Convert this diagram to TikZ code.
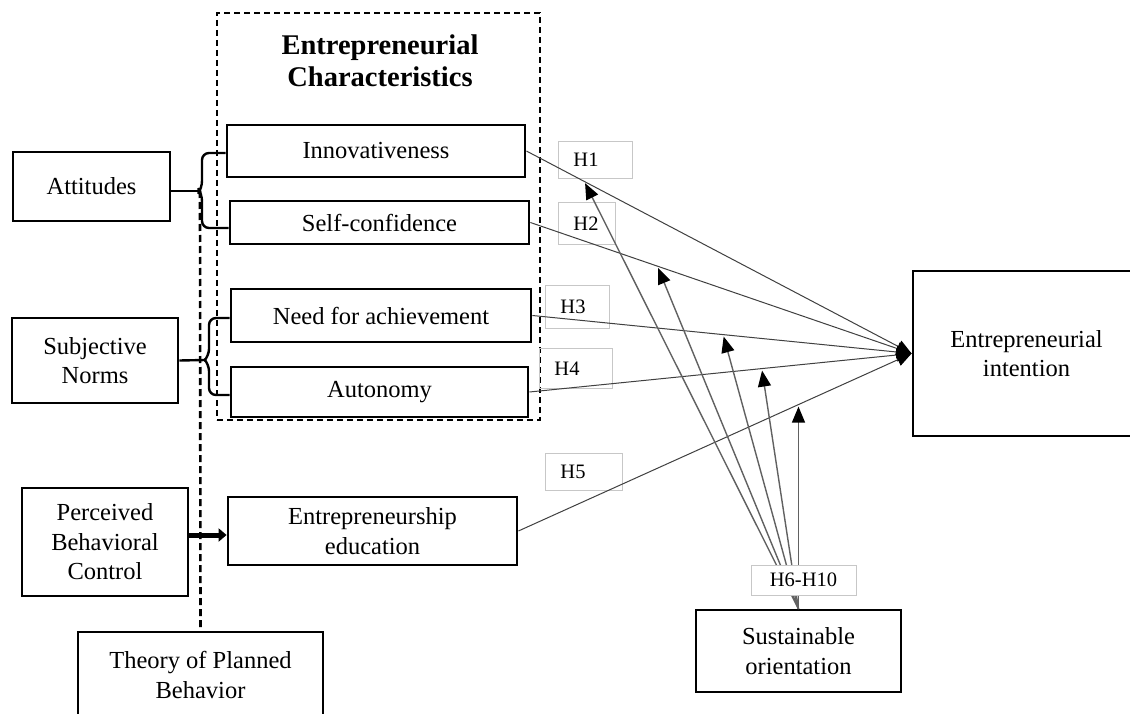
\documentclass[tikz,border=0pt]{standalone}
\usepackage{fontspec}
\setmainfont{Liberation Serif}
\usetikzlibrary{arrows.meta,calc}
\begin{document}
\begin{tikzpicture}[x=1pt,y=-1pt,
  box/.style={draw=black,line width=2.8pt,inner sep=0pt,align=center,
    font=\fontsize{24.5}{29.5}\selectfont},
  hlab/.style={draw=black!22,line width=0.9pt,anchor=north west,inner xsep=15pt,
    inner ysep=0pt,align=left,font=\fontsize{20.5}{24}\selectfont},
  hline/.style={draw=black!75,line width=1pt,-{Triangle[length=15pt,width=13pt,color=black]}},
  modline/.style={draw=black!62,line width=1.4pt,-{Triangle[length=16pt,width=13pt,color=black]},shorten >=2pt},
  brace/.style={draw=black,line width=2.4pt,rounded corners=7pt},
  dashbox/.style={draw=black,line width=1.6pt,dash pattern=on 6pt off 4pt},
  tpbdash/.style={draw=black,line width=2.6pt,dash pattern=on 7pt off 4pt}]
\useasboundingbox (0,0) rectangle (1130,714);
\fill[white] (0,0) rectangle (1130,714);

% dashed group box and title
\node[dashbox,minimum width=323pt,minimum height=407pt,inner sep=0pt] (ecbox) at (378.5,216.5) {};
\node[font=\bfseries\fontsize{28.5}{32}\selectfont,align=center] (ectitle) at (380,61) {Entrepreneurial\\Characteristics};

% characteristic boxes
\node[box,minimum width=298pt,minimum height=52pt] (inn) at (376,151) {Innovativeness};
\node[box,minimum width=299pt,minimum height=43pt] (sc) at (379.5,222.5) {Self-confidence};
\node[box,minimum width=300pt,minimum height=53pt] (nfa) at (381,315.5) {Need for achievement};
\node[box,minimum width=297pt,minimum height=50pt] (aut) at (379.5,392) {Autonomy};
\node[box,minimum width=289pt,minimum height=68pt] (ee) at (372.5,531) {Entrepreneurship\\education};

% TPB boxes
\node[box,minimum width=157pt,minimum height=69pt] (att) at (91.5,186.5) {Attitudes};
\node[box,minimum width=166pt,minimum height=85pt] (sn) at (95,360.5) {Subjective\\Norms};
\node[box,minimum width=166pt,minimum height=108pt] (pbc) at (105,542) {Perceived\\Behavioral\\Control};
\node[box,minimum width=245pt,minimum height=86pt] (tpb) at (200.5,675) {Theory of Planned\\Behavior};

% outcome and moderator
\node[box,minimum width=227pt,minimum height=165pt] (ei) at (1026.5,353.5) {Entrepreneurial\\intention};
\node[box,line width=2pt,minimum width=205pt,minimum height=82pt] (sust) at (798.5,651) {Sustainable\\orientation};

% braces
\coordinate (attj) at (200,191);
\draw[brace,rounded corners=0pt] (att.east |- attj) -- (attj);
\draw[brace] (inn.west |- 0,153) -- (202,153) -- (202,188) -- (attj);
\draw[brace] (attj) -- (202,194) -- (202,228) -- ([yshift=-5.5pt]sc.west);
\coordinate (snj) at (205,360);
\draw[brace,rounded corners=0pt] (sn.east) -- (snj);
\draw[brace] ([yshift=-2.5pt]nfa.west) -- (209,318) -- (209,356) -- (snj);
\draw[brace] (snj) -- (209,364) -- (209,395) -- ([yshift=-3pt]aut.west);

% dashed TPB line
\draw[tpbdash] (attj) -- (tpb.north);

% PBC -> education
\draw[draw=black,line width=5pt,-{Triangle[length=8pt,width=13pt]}] ([yshift=7pt]pbc.east) -- ([yshift=-4pt]ee.west);

% H label boxes
\node[hlab,minimum width=74pt,minimum height=37pt,text width=44pt] (h1) at (558,141) {H1};
\node[hlab,minimum width=57pt,minimum height=42pt,text width=27pt] (h2) at (558,202) {H2};
\node[hlab,minimum width=64pt,minimum height=43pt,text width=34pt] (h3) at (545,285) {H3};
\node[hlab,minimum width=73pt,minimum height=40pt,text width=43pt] (h4) at (539,348) {H4};
\node[hlab,minimum width=77pt,minimum height=37pt,text width=47pt] (h5) at (545,453) {H5};

% direct effects
\draw[hline] (inn.east) -- (ei.west);
\draw[hline] (sc.east) -- (ei.west);
\draw[hline] (nfa.east) -- (ei.west);
\draw[hline] (aut.east) -- (ei.west);
\draw[hline] (ee.east) -- (ei.west);

% moderation targets
\coordinate (m1) at ($(inn.east)!0.15!(ei.west)$);
\coordinate (m2) at ($(sc.east)!0.333!(ei.west)$);
\coordinate (m3) at ($(nfa.east)!0.503!(ei.west)$);
\coordinate (m4) at ($(aut.east)!0.608!(ei.west)$);
\coordinate (m5) at ($(ee.east)!0.712!(ei.west)$);
\draw[modline] (sust.north) -- (m1);
\draw[modline] (sust.north) -- (m2);
\draw[modline] (sust.north) -- (m3);
\draw[modline] (sust.north) -- (m4);
\draw[modline] (sust.north) -- (sust.north |- m5);

% H6-H10 label
\node[draw=black!22,fill=white,line width=0.9pt,minimum width=105pt,minimum height=30pt,
  inner sep=0pt,font=\fontsize{20.5}{24}\selectfont] (h610) at (803.5,580) {H6-H10};
\end{tikzpicture}
\end{document}
